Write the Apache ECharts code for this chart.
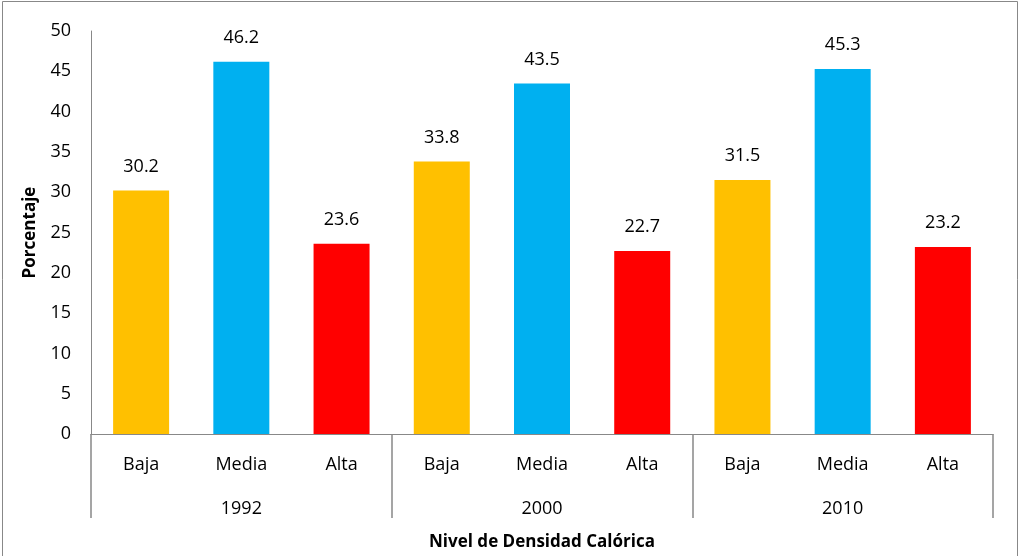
<!DOCTYPE html>
<html>
<head>
<meta charset="utf-8">
<script src="https://cdn.jsdelivr.net/npm/echarts@6/dist/echarts.min.js"></script>
<style>
  html, body { margin: 0; padding: 0; background: #fff; }
  #box { width: 1019px; height: 556px; }
</style>
</head>
<body>
<div id="box"></div>
<script>
// datos
const years = ["1992", "2000", "2010"];
const levels = ["Baja", "Media", "Alta"];
const values = [30.2, 46.2, 23.6, 33.8, 43.5, 22.7, 31.5, 45.3, 23.2];
const levelColors = ["#FFC000", "#00B0F0", "#FF0000"];

let categories = [];
years.forEach(() => levels.forEach(l => categories.push(l)));

let font = "'Open Sans', sans-serif";
let chart = echarts.init(document.getElementById("box"), null, { renderer: "canvas" });

let option = {
  animation: false,
  textStyle: { fontFamily: font },
  graphic: [{
    type: "rect",
    shape: { x: 2.5, y: 1.5, width: 1015, height: 560 },
    style: { fill: "none", stroke: "#888", lineWidth: 1 },
    silent: true
  }],
  grid: { left: 91, right: 26, top: 31, bottom: 119 },
  xAxis: [{
    type: "category",
    data: categories,
    position: "bottom",
    axisLine: { show: true, lineStyle: { color: "#888", width: 1 } },
    axisTick: { show: false },
    axisLabel: { color: "#000", fontSize: 18, margin: 22, fontFamily: font }
  }, {
    type: "category",
    data: years,
    position: "bottom",
    offset: 0,
    axisLine: { show: false },
    axisTick: { show: true, length: 84, lineStyle: { color: "#888", width: 1.5 } },
    axisLabel: { color: "#000", fontSize: 18, margin: 66, fontFamily: font },
    name: "Nivel de Densidad Calórica",
    nameLocation: "middle",
    nameGap: 100,
    nameTextStyle: { color: "#000", fontSize: 17, fontWeight: "bold", fontFamily: font }
  }],
  yAxis: {
    type: "value",
    min: 0,
    max: 50,
    interval: 5,
    axisLine: { show: true, lineStyle: { color: "#888", width: 1 } },
    axisTick: { show: false },
    splitLine: { show: false },
    axisLabel: { color: "#000", fontSize: 18, margin: 20, fontFamily: font },
    name: "Porcentaje",
    nameLocation: "middle",
    nameGap: 52,
    nameTextStyle: { color: "#000", fontSize: 17, fontWeight: "bold", fontFamily: font }
  },
  series: [{
    type: "bar",
    xAxisIndex: 0,
    barWidth: 56,
    data: values.map((v, i) => ({
      value: v,
      itemStyle: { color: levelColors[i % levels.length] }
    })),
    label: {
      show: true,
      position: "top",
      distance: 15,
      color: "#000",
      fontSize: 18,
      fontFamily: font,
      formatter: p => p.value.toFixed(1)
    }
  }]
};

chart.setOption(option);
</script>
</body>
</html>
